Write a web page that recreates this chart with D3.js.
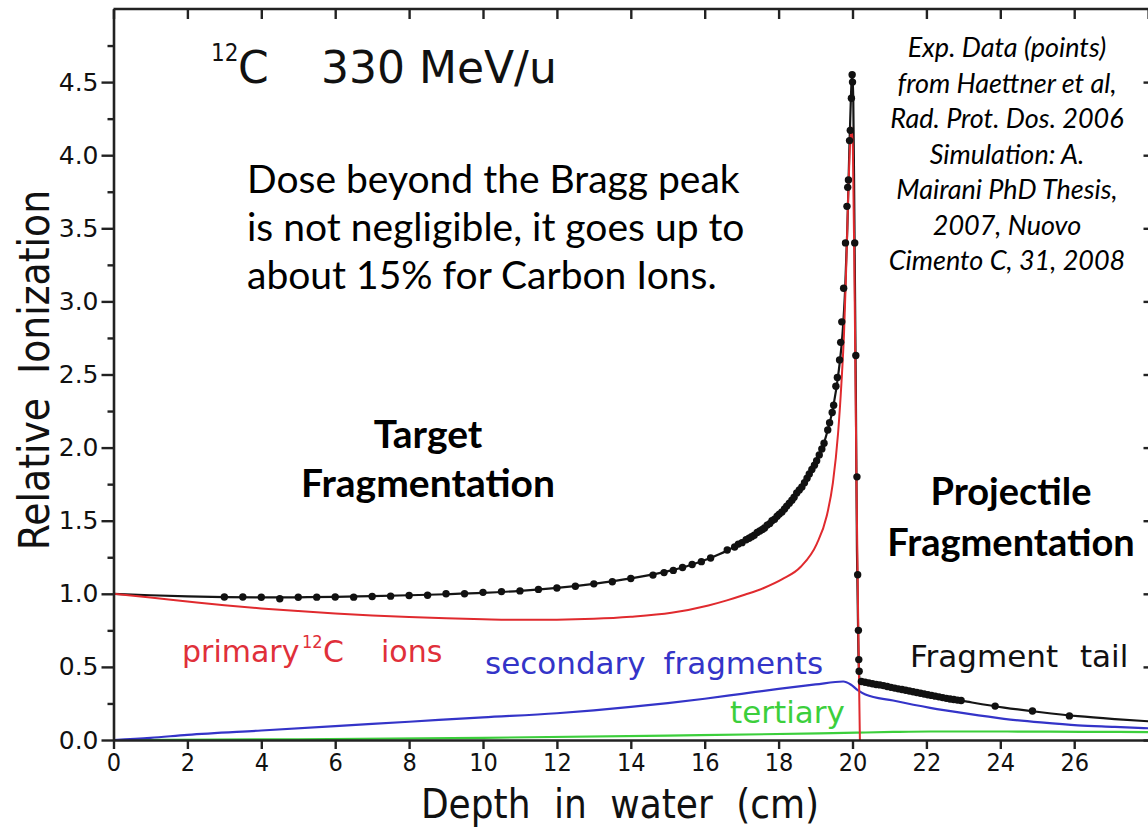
<!DOCTYPE html>
<html>
<head>
<meta charset="utf-8">
<script src="https://cdn.jsdelivr.net/npm/d3@7"></script>
<style>
  html, body { margin: 0; padding: 0; background: #fff; }
  svg { display: block; }
  .plotfont { font-family: "DejaVu Sans", sans-serif; }
  .narrow { font-family: "DejaVu Sans Condensed", "DejaVu Sans", sans-serif; }
  .note { font-family: Lato, "Open Sans", sans-serif; }
</style>
</head>
<body>
<svg id="chart" width="1148" height="834"></svg>
<script>
// Ticks
const xTicks = [0, 2, 4, 6, 8, 10, 12, 14, 16, 18, 20, 22, 24, 26];
const yTicks = [0.0, 0.5, 1.0, 1.5, 2.0, 2.5, 3.0, 3.5, 4.0, 4.5];
const yMinorTicks = [0.25, 0.75, 1.25, 1.75, 2.25, 2.75, 3.25, 3.75, 4.25, 4.75];

// Total simulated ionization (black line)
const totalDepth = [0, 1, 2, 3, 4, 5, 6, 7, 8, 9, 10, 11, 12, 13, 14, 15.1, 15.6, 16.1, 16.6, 17.1, 17.6, 18.1, 18.6, 18.93, 19.13, 19.33, 19.48, 19.63, 19.73, 19.8, 19.86, 19.91, 19.96, 19.99, 20.02, 20.05, 20.09, 20.12, 20.16, 20.19, 20.29, 20.64, 21.1, 22.1, 23.1, 24.1, 25.1, 26.1, 27.1, 28.2];
const totalDose  = [1.000, 0.990, 0.982, 0.977, 0.975, 0.976, 0.979, 0.984, 0.990, 0.997, 1.006, 1.020, 1.040, 1.068, 1.105, 1.160, 1.195, 1.240, 1.295, 1.365, 1.450, 1.565, 1.730, 1.860, 1.960, 2.120, 2.280, 2.530, 2.780, 3.080, 3.500, 4.000, 4.420, 4.560, 4.400, 3.600, 2.400, 1.300, 0.600, 0.420, 0.395, 0.380, 0.355, 0.305, 0.262, 0.222, 0.190, 0.163, 0.143, 0.125];

// Primary 12C ions (red)
const primaryDepth = [0, 1, 2, 3, 4, 5, 6, 7, 8, 9, 10, 11, 12, 13, 14, 15.1, 16.1, 16.6, 17.1, 17.6, 18.1, 18.6, 19.03, 19.3, 19.47, 19.61, 19.7, 19.77, 19.82, 19.87, 19.92, 19.97, 20.01, 20.06, 20.11, 20.16, 20.2];
const primaryDose  = [1.000, 0.975, 0.948, 0.922, 0.900, 0.882, 0.866, 0.852, 0.841, 0.832, 0.826, 0.822, 0.823, 0.829, 0.843, 0.870, 0.920, 0.955, 0.995, 1.040, 1.100, 1.185, 1.340, 1.530, 1.760, 2.100, 2.440, 2.780, 3.150, 3.600, 4.000, 4.190, 4.050, 3.000, 1.700, 0.700, 0.000];

// Secondary fragments (blue)
const secondaryDepth = [0, 1, 2, 4, 6, 8, 10, 12, 13, 14, 15, 16, 17, 18, 19, 19.75, 19.95, 20.15, 20.35, 21.1, 22.1, 23.1, 24.1, 25.1, 26.1, 27.1, 28.2];
const secondaryDose  = [0.000, 0.015, 0.035, 0.065, 0.095, 0.125, 0.155, 0.183, 0.203, 0.226, 0.252, 0.282, 0.316, 0.350, 0.380, 0.400, 0.380, 0.340, 0.312, 0.270, 0.220, 0.180, 0.145, 0.120, 0.100, 0.090, 0.078];

// Tertiary fragments (green)
const tertiaryDepth = [0, 5, 10, 15, 19.1, 20.1, 21.1, 22.1, 24.2, 26.2, 28.2];
const tertiaryDose  = [0.000, 0.005, 0.015, 0.030, 0.045, 0.050, 0.055, 0.058, 0.058, 0.056, 0.054];

// Measured points
const expDepth = [3.0, 3.5, 4.0, 4.5, 5.0, 5.5, 6.0, 6.5, 7.0, 7.5, 8.0, 8.5, 9.0, 9.5, 10.0, 10.5, 11.0, 11.5, 12.0, 12.5, 13.0, 13.5, 14.0, 14.6, 14.9, 15.15, 15.4, 15.66, 15.91, 16.16, 16.61,
  16.81, 16.91, 17.01, 17.12, 17.2, 17.27, 17.34, 17.42, 17.49, 17.56, 17.62, 17.69, 17.76, 17.82, 17.89, 17.96, 18.02, 18.09, 18.16, 18.22, 18.29, 18.36, 18.42, 18.49, 18.56, 18.63, 18.7, 18.77, 18.83, 18.9, 18.97, 19.03, 19.1, 19.17, 19.23,
  19.33, 19.38, 19.45, 19.49, 19.55, 19.59, 19.65, 19.68, 19.71, 19.76, 19.81, 19.85, 19.87, 19.89, 19.92, 19.94, 19.97, 19.99, 20.0,
  20.06, 20.09, 20.12, 20.14, 20.16, 20.17, 20.18,
  20.24, 20.34, 20.44, 20.54, 20.64, 20.74, 20.84, 20.94, 21.04, 21.14, 21.24, 21.34, 21.44, 21.54, 21.64, 21.74, 21.84, 21.94, 22.04, 22.14, 22.24, 22.34, 22.44, 22.54, 22.64, 22.74, 22.84, 22.94,
  23.86, 24.87, 25.87];
const expDose = [0.978, 0.978, 0.976, 0.966, 0.976, 0.977, 0.978, 0.977, 0.982, 0.984, 0.988, 0.990, 1.000, 1.000, 1.010, 1.015, 1.020, 1.030, 1.040, 1.052, 1.068, 1.082, 1.105, 1.128, 1.145, 1.160, 1.180, 1.200, 1.220, 1.245, 1.300,
  1.320, 1.340, 1.350, 1.370, 1.380, 1.390, 1.400, 1.420, 1.430, 1.440, 1.450, 1.470, 1.480, 1.500, 1.510, 1.530, 1.545, 1.560, 1.580, 1.600, 1.620, 1.640, 1.660, 1.690, 1.710, 1.730, 1.760, 1.790, 1.820, 1.850, 1.880, 1.910, 1.950, 1.990, 2.030,
  2.120, 2.170, 2.240, 2.290, 2.420, 2.480, 2.600, 2.720, 2.860, 3.090, 3.400, 3.650, 3.780, 3.830, 4.100, 4.170, 4.390, 4.550, 4.500,
  3.400, 2.630, 1.800, 1.130, 0.750, 0.550, 0.470,
  0.400, 0.395, 0.390, 0.385, 0.380, 0.377, 0.372, 0.366, 0.360, 0.355, 0.350, 0.345, 0.340, 0.335, 0.330, 0.325, 0.320, 0.315, 0.310, 0.305, 0.300, 0.295, 0.290, 0.285, 0.280, 0.277, 0.273, 0.270,
  0.232, 0.198, 0.165];

const svg = d3.select("#chart");

const x = d3.scaleLinear().domain([0, 28.2]).range([113.5, 1155.5]);
const y = d3.scaleLinear().domain([0, 5]).range([740, 9]);

// Top border of the frame
svg.append("line").attr("x1", x(0)).attr("x2", 1160).attr("y1", y(5)).attr("y2", y(5))
  .attr("stroke", "#222").attr("stroke-width", 2.6);

// Clip for curves
svg.append("clipPath").attr("id", "plotclip").append("rect")
  .attr("x", x(0)).attr("y", y(5)).attr("width", x(28.2) - x(0)).attr("height", y(0) - y(5));

const plot = svg.append("g").attr("clip-path", "url(#plotclip)");
const line = (xs, ys) => d3.line().x((d, i) => x(xs[i])).y((d, i) => y(ys[i])).curve(d3.curveMonotoneX)(xs);

plot.append("path").attr("d", line(tertiaryDepth, tertiaryDose))
  .attr("fill", "none").attr("stroke", "#3ccf3c").attr("stroke-width", 2.2);
plot.append("path").attr("d", line(secondaryDepth, secondaryDose))
  .attr("fill", "none").attr("stroke", "#3434c8").attr("stroke-width", 2.2);
plot.append("path").attr("d", line(totalDepth, totalDose))
  .attr("fill", "none").attr("stroke", "#151515").attr("stroke-width", 2.2);
plot.append("path").attr("d", line(primaryDepth, primaryDose))
  .attr("fill", "none").attr("stroke", "#e02a2e").attr("stroke-width", 2);

plot.append("g").selectAll("circle").data(expDepth).join("circle")
  .attr("cx", (d) => x(d)).attr("cy", (d, i) => y(expDose[i])).attr("r", 3.7)
  .attr("fill", "#111");

// Axes
const axisStyle = (g) => {
  g.select(".domain").attr("stroke", "#222").attr("stroke-width", 2.6);
  g.selectAll(".tick line").attr("stroke", "#222").attr("stroke-width", 2.4);
  g.selectAll(".tick text").attr("fill", "#111");
};

svg.append("g").attr("transform", `translate(${x(0)},0)`)
  .call(d3.axisLeft(y).tickValues(yMinorTicks).tickSize(6).tickFormat(""))
  .call(axisStyle).call((g) => g.select(".domain").remove());
svg.append("g").attr("class", "plotfont").attr("transform", `translate(${x(0)},0)`)
  .call(d3.axisLeft(y).tickValues(yTicks).tickSize(12).tickSizeOuter(0).tickPadding(3).tickFormat(d3.format(".1f")))
  .call(axisStyle)
  .call((g) => g.selectAll(".tick text").attr("font-size", 25).attr("font-family", null));

svg.append("g").attr("class", "narrow").attr("transform", `translate(0,${y(0)})`)
  .call(d3.axisBottom(x).tickValues(xTicks).tickSize(9).tickSizeOuter(0).tickPadding(4).tickFormat(d3.format("d")))
  .call(axisStyle)
  .call((g) => g.selectAll(".tick text").attr("font-size", 25).attr("font-family", null));

svg.append("g").attr("transform", `translate(0,${y(5)})`)
  .call(d3.axisTop(x).tickValues(xTicks.concat([28])).tickSize(-10).tickFormat(""))
  .call(axisStyle).call((g) => g.select(".domain").remove());

svg.append("g").attr("transform", `translate(${x(28.2)},0)`)
  .call(d3.axisRight(y).tickValues(yTicks).tickSize(-12).tickFormat(""))
  .call(axisStyle).call((g) => g.select(".domain").remove());
svg.append("g").attr("transform", `translate(${x(28.2)},0)`)
  .call(d3.axisRight(y).tickValues(yMinorTicks).tickSize(-6).tickFormat(""))
  .call(axisStyle).call((g) => g.select(".domain").remove());

// Axis titles
svg.append("text").attr("class", "narrow")
  .attr("x", 620).attr("y", 818).attr("text-anchor", "middle")
  .attr("font-size", 40).attr("fill", "#111").attr("word-spacing", 12)
  .text("Depth in water (cm)");
svg.append("text").attr("class", "narrow")
  .attr("transform", "translate(49,370) rotate(-90)").attr("text-anchor", "middle")
  .attr("font-size", 42).attr("fill", "#111").attr("word-spacing", 12)
  .text("Relative Ionization");

// Beam label
const beam = svg.append("text").attr("class", "plotfont")
  .attr("y", 83).attr("font-size", 44).attr("fill", "#111");
beam.append("tspan").attr("class", "narrow").attr("x", 211).attr("font-size", 24).attr("dy", -22).text("12");
beam.append("tspan").attr("x", 238).attr("dy", 22).text("C");
beam.append("tspan").attr("x", 321).text("330 MeV/u");

// Curve labels
const prim = svg.append("text").attr("class", "plotfont")
  .attr("y", 662).attr("font-size", 30).attr("fill", "#e0303a");
prim.append("tspan").attr("x", 182).text("primary");
prim.append("tspan").attr("class", "narrow").attr("x", 302).attr("font-size", 18).attr("dy", -14).text("12");
prim.append("tspan").attr("x", 323).attr("dy", 14).text("C");
prim.append("tspan").attr("x", 381).text("ions");

svg.append("text").attr("class", "plotfont")
  .attr("x", 485).attr("y", 674).attr("font-size", 31).attr("fill", "#3434c8").attr("word-spacing", 8)
  .text("secondary fragments");
svg.append("text").attr("class", "plotfont")
  .attr("x", 730).attr("y", 723).attr("font-size", 31).attr("fill", "#3ccf3c")
  .text("tertiary");
svg.append("text").attr("class", "plotfont")
  .attr("x", 910).attr("y", 667).attr("font-size", 31).attr("fill", "#111").attr("word-spacing", 12)
  .text("Fragment tail");

// Notes
const note = svg.append("text").attr("class", "note").attr("font-size", 39).attr("fill", "#000");
["Dose beyond the Bragg peak", "is not negligible, it goes up to", "about 15% for Carbon Ions."]
  .forEach((t, i) => note.append("tspan").attr("x", 247).attr("y", 193 + i * 48).text(t));

const tgt = svg.append("text").attr("class", "note").attr("font-size", 39).attr("font-weight", "bold")
  .attr("text-anchor", "middle").attr("fill", "#000");
["Target", "Fragmentation"].forEach((t, i) => tgt.append("tspan").attr("x", 428).attr("y", 448 + i * 49).text(t));

const proj = svg.append("text").attr("class", "note").attr("font-size", 38).attr("font-weight", "bold")
  .attr("text-anchor", "middle").attr("fill", "#000");
["Projectile", "Fragmentation"].forEach((t, i) => proj.append("tspan").attr("x", 1011).attr("y", 505 + i * 51).text(t));

const ref = svg.append("text").attr("class", "note").attr("font-size", 27).attr("font-style", "italic")
  .attr("text-anchor", "middle").attr("fill", "#000");
["Exp. Data (points)", "from Haettner et al,", "Rad. Prot. Dos. 2006", "Simulation: A.",
 "Mairani PhD Thesis,", "2007, Nuovo", "Cimento C, 31, 2008"]
  .forEach((t, i) => ref.append("tspan").attr("x", 1007).attr("y", 57 + i * 35.5).text(t));
</script>
</body>
</html>
